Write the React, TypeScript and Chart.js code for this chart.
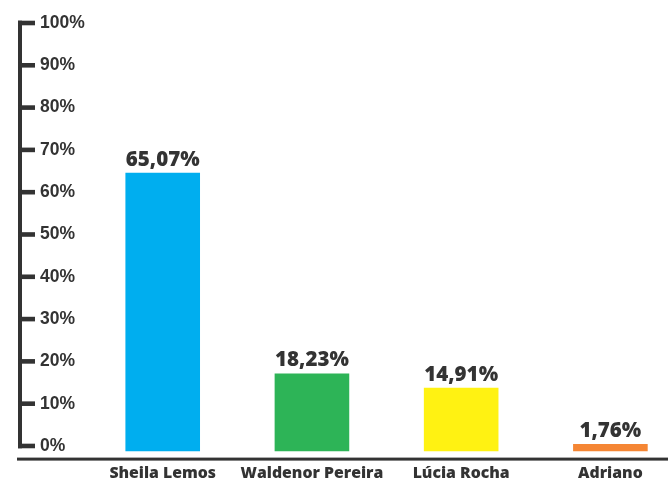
import React, { useEffect, useRef } from "react";
import { Chart, registerables } from "chart.js";

Chart.register(...registerables);

const categories = ["Sheila Lemos", "Waldenor Pereira", "Lúcia Rocha", "Adriano"];
const percentages = [65.07, 18.23, 14.91, 1.76];
const barColors = ["#00AEEF", "#2DB457", "#FFF212", "#F58634"];
const tickValues = [0, 10, 20, 30, 40, 50, 60, 70, 80, 90, 100];

const TEXT = "#333333";
const LABEL_FONT = "'Open Sans', 'DejaVu Sans', sans-serif";

const fmt = (v: number) => v.toFixed(2).replace(".", ",") + "%";

const decorPlugin = {
  id: "decor",
  afterDraw(chart: any) {
    const ctx = chart.ctx;
    const y1 = chart.scales.y1;
    const y = chart.scales.y;
    ctx.save();
    ctx.fillStyle = TEXT;
    // vertical axis line
    const top = y1.getPixelForValue(100);
    const bottom = y1.getPixelForValue(0);
    ctx.fillRect(18, top - 2.3, 4, bottom - top + 4.6);
    // ticks
    for (const t of y1.ticks) {
      const p = y1.getPixelForValue(t.value);
      ctx.fillRect(18, p - 2.3, 17, 4.6);
    }
    // baseline
    const base = y.getPixelForValue(0) + 7.5;
    ctx.fillRect(17, base - 1.5, chart.width - 17, 3);
    // value labels
    const meta = chart.getDatasetMeta(0);
    ctx.font = `800 20.5px ${LABEL_FONT}`;
    ctx.textAlign = "center";
    ctx.textBaseline = "alphabetic";
    meta.data.forEach((el: any, i: number) => {
      ctx.fillText(fmt(percentages[i]), el.x, el.y - 7);
    });
    ctx.restore();
  },
};

export default function App() {
  const ref = useRef<HTMLCanvasElement | null>(null);
  useEffect(() => {
    if (!ref.current) return;
    const chart = new Chart(ref.current, {
      type: "bar",
      data: {
        labels: categories,
        datasets: [
          {
            data: percentages,
            backgroundColor: barColors,
            borderWidth: 0,
            categoryPercentage: 1,
            barPercentage: 0.5,
            yAxisID: "y",
          },
        ],
      },
      options: {
        responsive: false,
        animation: false,
        layout: { padding: { left: 40, top: 23, right: 0, bottom: 0 } },
        plugins: {
          legend: { display: false },
          tooltip: { enabled: false },
          title: { display: false },
        },
        scales: {
          x: {
            grid: { display: false, drawTicks: false },
            border: { display: false },
            ticks: {
              color: TEXT,
              padding: 12.5,
              font: { family: LABEL_FONT, weight: "800", size: 15.8 },
              maxRotation: 0,
              autoSkip: false,
            },
            afterFit(scale: any) {
              scale.height = 32.4;
            },
          },
          y: {
            display: false,
            min: 0,
            max: 100,
          },
          y1: {
            position: "left",
            min: -1.33,
            max: 100,
            grid: { display: false, drawTicks: false },
            border: { display: false },
            afterBuildTicks(scale: any) {
              scale.ticks = tickValues.map((v) => ({ value: v }));
            },
            ticks: {
              color: TEXT,
              crossAlign: "far",
              font: { family: "'Liberation Sans', Arial, sans-serif", weight: "bold", size: 17.5 },
              callback: (v: any) => v + "%",
            },
            afterFit(scale: any) {
              scale.width = 48.1;
            },
          },
        },
      },
      plugins: [decorPlugin],
    } as any);
    return () => chart.destroy();
  }, []);
  return (
    <div
      style={{
        position: "absolute",
        left: 0,
        top: 0,
        width: 668,
        height: 484,
        overflow: "hidden",
        background: "#ffffff",
      }}
    >
      <canvas ref={ref} width={685} height={484} style={{ display: "block" }} />
    </div>
  );
}
